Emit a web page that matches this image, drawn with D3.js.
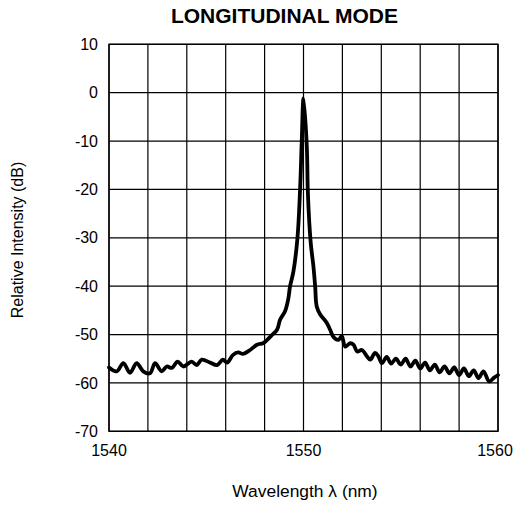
<!DOCTYPE html>
<html>
<head>
    <title>Longitudinal mode</title>
    <script src="https://cdn.jsdelivr.net/npm/d3@7/dist/d3.min.js"></script>
    <style>
        body { margin: 0; background: white; }
        text { font-family: "Liberation Sans", Arial, sans-serif; fill: black; }
    </style>
</head>
<body>
    <svg width="514" height="506"></svg>
    <script>
        // values
        const wavelength = [
            1540.0, 1540.4, 1540.74, 1541.08, 1541.42, 1541.76, 1542.11, 1542.37, 1542.71, 1542.97,
            1543.23, 1543.53, 1543.82, 1544.25, 1544.51, 1544.77, 1545.2, 1545.56, 1545.86, 1546.07,
            1546.38, 1546.64, 1546.89, 1547.25, 1547.61, 1547.92, 1548.13, 1548.38, 1548.64, 1548.8,
            1549.05, 1549.21, 1549.31, 1549.48, 1549.69, 1549.83, 1549.91, 1550.0,
            1550.17, 1550.22, 1550.3, 1550.39, 1550.51, 1550.6, 1550.68, 1550.85,
            1551.2, 1551.37, 1551.54, 1551.8, 1551.97, 1552.14, 1552.4, 1552.57, 1552.76, 1553.0,
            1553.26, 1553.43, 1553.68, 1553.85, 1554.03, 1554.28, 1554.5, 1554.75, 1555.0, 1555.25,
            1555.5, 1555.75, 1556.0, 1556.25, 1556.5, 1556.75, 1557.0, 1557.25, 1557.5, 1557.75,
            1558.0, 1558.25, 1558.5, 1558.75, 1559.0, 1559.25, 1559.55, 1559.8, 1560.0
        ];
        const intensity = [
            -56.8, -57.6, -55.9, -57.9, -55.9, -57.6, -58.0, -55.9, -57.6, -56.6,
            -56.9, -55.6, -56.6, -55.6, -56.3, -55.2, -55.8, -56.3, -55.2, -55.8,
            -54.2, -53.7, -54.0, -53.2, -52.1, -51.8, -51.1, -50.1, -49.0, -46.9,
            -45.2, -42.8, -40.0, -37.0, -30.0, -19.4, -10.0, -1.2,
            -11.2, -20.1, -27.0, -31.8, -35.9, -40.1, -44.2, -45.8,
            -47.6, -49.0, -50.5, -51.1, -50.3, -52.5, -51.8, -52.1, -53.5, -53.2,
            -54.5, -55.2, -53.8, -54.5, -55.9, -54.6, -56.0, -55.0, -56.2, -55.0,
            -56.6, -55.4, -57.0, -55.8, -57.4, -56.2, -57.8, -56.6, -58.0, -56.8,
            -58.4, -57.0, -58.6, -57.4, -59.0, -57.6, -59.7, -58.9, -58.4
        ];
        const yTicks = [10, 0, -10, -20, -30, -40, -50, -60, -70];
        const xTicks = [1540, 1550, 1560];
        const xGrid = [1540, 1542, 1544, 1546, 1548, 1550, 1552, 1554, 1556, 1558, 1560];

        const svg = d3.select('svg');

        const plotL = 109, plotR = 498, plotT = 44.3, plotB = 431.3;

        const x = d3.scaleLinear().domain([1540, 1560]).range([plotL, plotR]);
        const y = d3.scaleLinear().domain([-70, 10]).range([plotB, plotT]);

        // grid
        svg.append('g')
            .selectAll('line')
            .data(xGrid)
            .join('line')
                .attr('x1', d => x(d)).attr('x2', d => x(d))
                .attr('y1', plotT).attr('y2', plotB)
                .attr('stroke', '#000')
                .attr('stroke-width', 1.2);

        svg.append('g')
            .selectAll('line')
            .data(yTicks)
            .join('line')
                .attr('x1', plotL).attr('x2', plotR)
                .attr('y1', d => y(d)).attr('y2', d => y(d))
                .attr('stroke', '#000')
                .attr('stroke-width', 1.2);

        svg.append('rect')
            .attr('x', plotL).attr('y', plotT)
            .attr('width', plotR - plotL).attr('height', plotB - plotT)
            .attr('fill', 'none')
            .attr('stroke', '#000')
            .attr('stroke-width', 1.4);

        // tick labels
        svg.append('g')
            .selectAll('text')
            .data(yTicks)
            .join('text')
                .attr('x', 98)
                .attr('y', d => y(d))
                .attr('dy', '0.35em')
                .attr('text-anchor', 'end')
                .attr('font-size', 16)
                .text(d => d);

        // last label is pulled left so it stays inside the page, as in the original
        svg.append('g')
            .selectAll('text')
            .data(xTicks)
            .join('text')
                .attr('x', (d, i) => x(d) - (i === xTicks.length - 1 ? 3 : 0))
                .attr('y', 456)
                .attr('text-anchor', 'middle')
                .attr('font-size', 16)
                .text(d => d);

        // spectrum
        const pts = wavelength.map((w, i) => [w, intensity[i]]);
        const line = d3.line()
            .x(d => x(d[0]))
            .y(d => y(d[1]))
            .curve(d3.curveCatmullRom.alpha(0.5));

        svg.append('path')
            .attr('d', line(pts))
            .attr('fill', 'none')
            .attr('stroke', '#000')
            .attr('stroke-width', 3.8)
            .attr('stroke-linejoin', 'round')
            .attr('stroke-linecap', 'round');

        // titles
        svg.append('text')
            .attr('x', 284.5).attr('y', 23)
            .attr('text-anchor', 'middle')
            .attr('font-size', 21)
            .attr('font-weight', 'bold')
            .text('LONGITUDINAL MODE');

        svg.append('text')
            .attr('x', 305).attr('y', 497)
            .attr('text-anchor', 'middle')
            .attr('font-size', 17.4)
            .text('Wavelength λ (nm)');

        svg.append('text')
            .attr('transform', 'translate(23,240) rotate(-90)')
            .attr('text-anchor', 'middle')
            .attr('font-size', 16)
            .text('Relative Intensity (dB)');
    </script>
</body>
</html>
